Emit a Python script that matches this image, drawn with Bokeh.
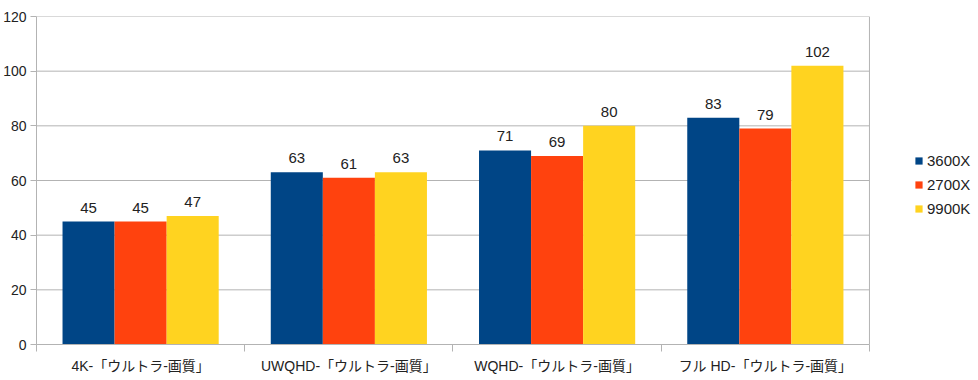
from bokeh.plotting import figure
from bokeh.models import ColumnDataSource, FixedTicker, Legend, LegendItem, Range1d, LabelSet, Span
from bokeh.core.properties import value
from bokeh.embed import file_html
from bokeh.resources import INLINE

categories = ["4K-「ウルトラ-画質」", "UWQHD-「ウルトラ-画質」", "WQHD-「ウルトラ-画質」", "フル HD-「ウルトラ-画質」"]
series_names = ["3600X", "2700X", "9900K"]
s3600x = [45, 63, 71, 83]
s2700x = [45, 61, 69, 79]
s9900k = [47, 63, 80, 102]
colors = ["#004586", "#ff420e", "#ffd320"]
y_ticks = [0, 20, 40, 60, 80, 100, 120]

FONT = "Liberation Sans, Arial, Noto Sans CJK JP, sans-serif"
GRID = "#b3b3b3"

n = len(categories)
p = figure(width=976, height=376, output_backend="svg", toolbar_location=None,
           x_range=Range1d(0, 4.514), y_range=Range1d(0, 120),
           min_border_left=36, min_border_right=0, min_border_top=16, min_border_bottom=28)
p.outline_line_color = None
p.background_fill_color = "white"

centers = [i + 0.5 for i in range(n)]
bounds = list(range(n + 1))

# horizontal grid lines limited to the category area
p.segment(x0=[0] * len(y_ticks), x1=[n] * len(y_ticks), y0=y_ticks, y1=y_ticks,
          line_color=GRID, line_width=1)

renderers = []
offsets = [-0.25, 0.0, 0.25]
for name, vals, col, off in zip(series_names, [s3600x, s2700x, s9900k], colors, offsets):
    src = ColumnDataSource(dict(x=[c + off for c in centers], top=vals, lab=[str(v) for v in vals]))
    r = p.vbar(x="x", top="top", width=0.25, source=src, fill_color=col, line_color=None)
    renderers.append(r)
    lbl = LabelSet(x="x", y="top", text="lab", source=src, text_align="center", text_baseline="bottom",
                   y_offset=9, text_font=value(FONT), text_font_size="15px", text_color="#222222")
    p.add_layout(lbl)

# x axis
p.xaxis.ticker = FixedTicker(ticks=centers, minor_ticks=bounds)
p.xaxis.bounds = (0, n)
p.xaxis.major_label_overrides = {c: cat for c, cat in zip(centers, categories)}
p.xaxis.major_tick_out = 0
p.xaxis.major_tick_in = 0
p.xaxis.minor_tick_out = 7
p.xaxis.minor_tick_in = 0
p.xaxis.minor_tick_line_color = GRID
p.xaxis.axis_line_color = GRID
p.xaxis.major_label_text_font = FONT
p.xaxis.major_label_text_font_size = "14px"
p.xaxis.major_label_text_color = "#222222"
p.xaxis.major_label_standoff = 6
p.xgrid.visible = False

# y axis
p.yaxis.ticker = FixedTicker(ticks=y_ticks)
p.yaxis.major_tick_out = 6
p.yaxis.major_tick_in = 0
p.yaxis.minor_tick_line_color = None
p.yaxis.major_tick_line_color = GRID
p.yaxis.axis_line_color = GRID
p.yaxis.major_label_text_font = FONT
p.yaxis.major_label_text_font_size = "14px"
p.yaxis.major_label_text_color = "#222222"
p.yaxis.major_label_standoff = 4
p.ygrid.visible = False

p.add_layout(Span(location=n, dimension="height", line_color=GRID, line_width=1))

legend = Legend(items=[LegendItem(label=nm, renderers=[r]) for nm, r in zip(series_names, renderers)],
                location=(878, 126), orientation="vertical",
                glyph_width=9, glyph_height=9, label_height=20, spacing=4, label_standoff=4,
                padding=0, margin=0, border_line_color=None, background_fill_alpha=0,
                label_text_font=FONT, label_text_font_size="15px", label_text_color="#222222")
p.add_layout(legend, "center")

open("out.html", "w").write(file_html(p, INLINE))
